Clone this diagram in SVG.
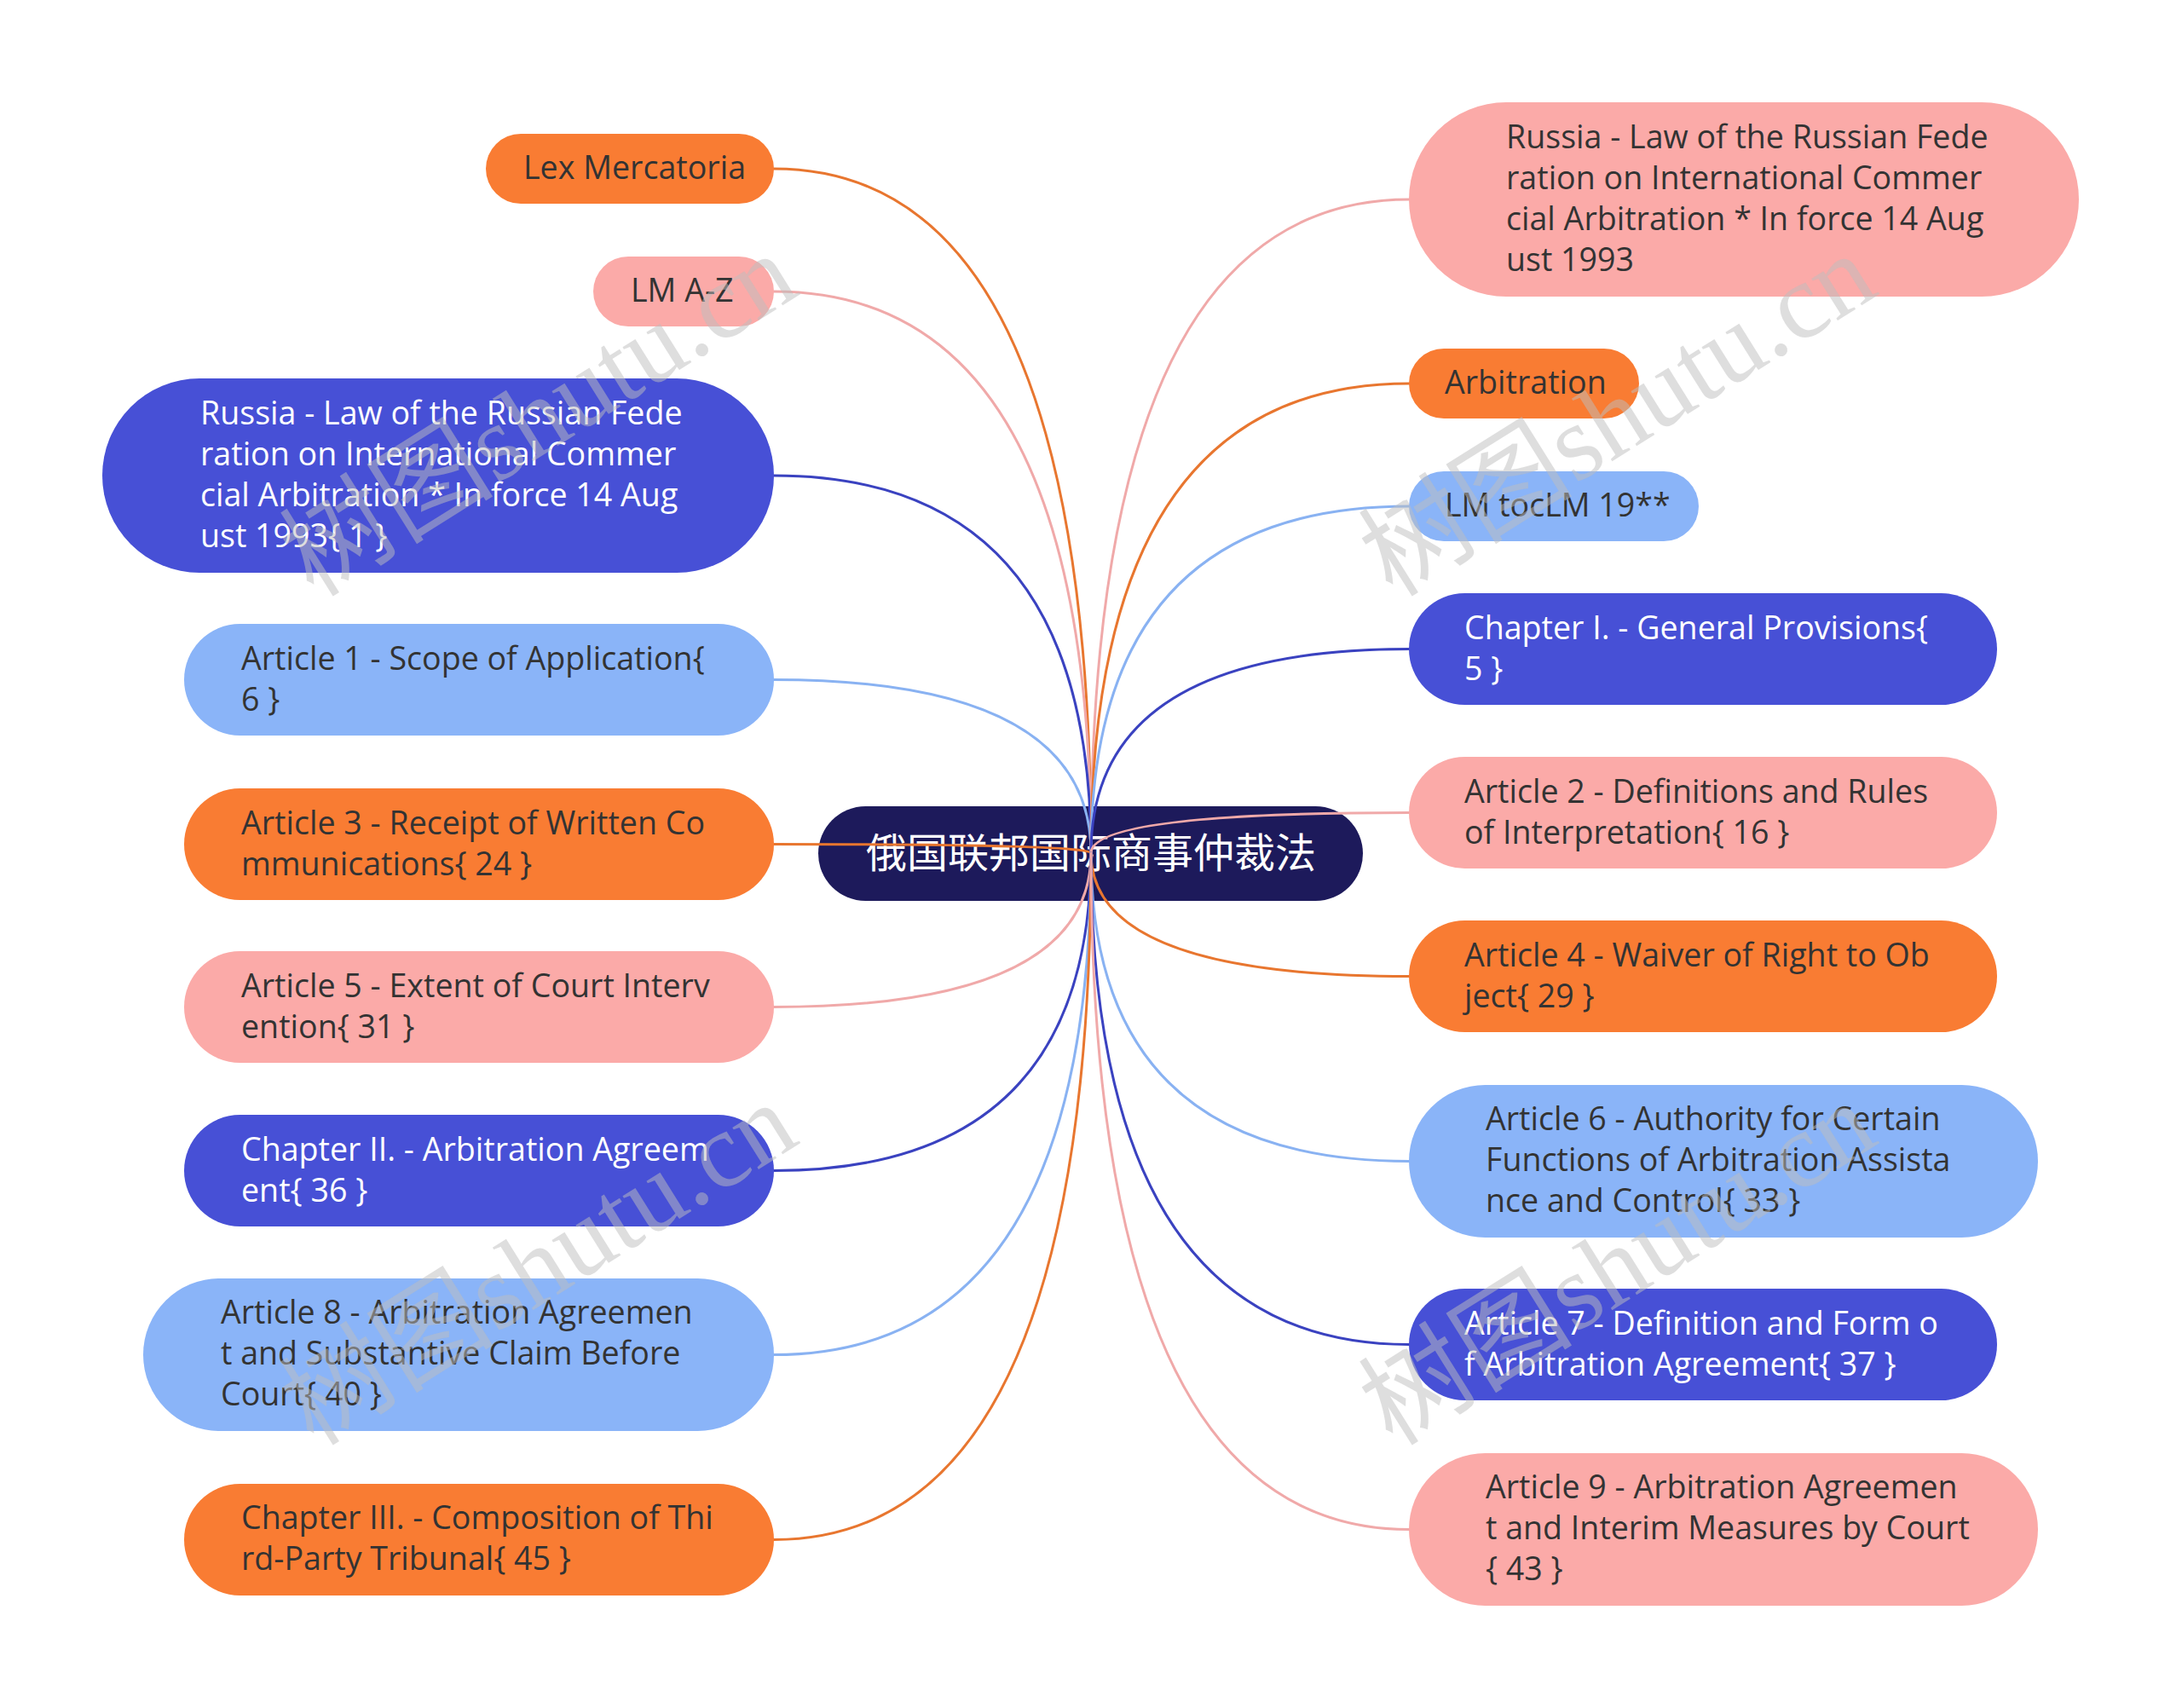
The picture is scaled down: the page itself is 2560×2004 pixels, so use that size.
<svg xmlns="http://www.w3.org/2000/svg" width="2560" height="2004" viewBox="0 0 2560 2004">
<style>
.t{font-family:"Open Sans","Noto Sans",sans-serif;font-size:37.6px;fill:#333333}
.w{fill:#ffffff}
.or{fill:#f97c33}
.pk{fill:#fbaaa8}
.lb{fill:#8ab4f8}
.bl{fill:#4750d6}
.c{fill:none;stroke-width:3;stroke-linecap:round}
.co{stroke:#e8762f}
.cp{stroke:#f0a9a9}
.cl{stroke:#89b2f2}
.cb{stroke:#3a42c0}
.wm{font-family:"Liberation Serif","Noto Sans CJK SC",serif;font-size:126px;fill:#bdbdbd;fill-opacity:0.5}
</style>
<rect x="0" y="0" width="2560" height="2004" fill="#ffffff"/>
<g id="center">
<rect x="960" y="946" width="639" height="111" rx="55.5" fill="#1d1a5b"/>
<text x="1280" y="1018" text-anchor="middle" style="font-family:'Noto Sans CJK SC','Noto Sans',sans-serif;font-size:48px;fill:#ffffff">俄国联邦国际商事仲裁法</text>
</g>
<g id="connectors">
<path class="c co" d="M1280,1001 Q1280,198 908,198"/>
<path class="c cp" d="M1280,1001 Q1280,342 908,342"/>
<path class="c cb" d="M1280,1001 Q1280,558 908,558"/>
<path class="c cl" d="M1280,1001 Q1280,797.5 908,797.5"/>
<path class="c co" d="M1280,1001 Q1280,990.5 908,990.5"/>
<path class="c cp" d="M1280,1001 Q1280,1181.5 908,1181.5"/>
<path class="c cb" d="M1280,1001 Q1280,1373.5 908,1373.5"/>
<path class="c cl" d="M1280,1001 Q1280,1589.5 908,1589.5"/>
<path class="c co" d="M1280,1001 Q1280,1806.5 908,1806.5"/>
<path class="c cp" d="M1280,1001 Q1280,234 1653,234"/>
<path class="c co" d="M1280,1001 Q1280,450 1653,450"/>
<path class="c cl" d="M1280,1001 Q1280,594 1653,594"/>
<path class="c cb" d="M1280,1001 Q1280,761.5 1653,761.5"/>
<path class="c cp" d="M1280,1001 Q1280,953.5 1653,953.5"/>
<path class="c co" d="M1280,1001 Q1280,1145.5 1653,1145.5"/>
<path class="c cl" d="M1280,1001 Q1280,1362.5 1653,1362.5"/>
<path class="c cb" d="M1280,1001 Q1280,1577.5 1653,1577.5"/>
<path class="c cp" d="M1280,1001 Q1280,1794.5 1653,1794.5"/>
</g>
<g id="n-lex">
<rect class="or" x="570" y="157" width="338" height="82" rx="41"/>
<text class="t" x="614" y="210">Lex Mercatoria</text>
</g>
<g id="n-lmaz">
<rect class="pk" x="696" y="301" width="212" height="82" rx="41"/>
<text class="t" x="740" y="354">LM A-Z</text>
</g>
<g id="n-russia-left">
<rect class="bl" x="120" y="444" width="788" height="228" rx="114"/>
<text class="t w" x="235"><tspan x="235" y="498">Russia - Law of the Russian Fede</tspan><tspan x="235" y="546">ration on International Commer</tspan><tspan x="235" y="594">cial Arbitration * In force 14 Aug</tspan><tspan x="235" y="642">ust 1993{ 1 }</tspan></text>
</g>
<g id="n-art1">
<rect class="lb" x="216" y="732" width="692" height="131" rx="65.5"/>
<text class="t"><tspan x="283" y="786">Article 1 - Scope of Application{</tspan><tspan x="283" y="834">6 }</tspan></text>
</g>
<g id="n-art3">
<rect class="or" x="216" y="925" width="692" height="131" rx="65.5"/>
<text class="t"><tspan x="283" y="979">Article 3 - Receipt of Written Co</tspan><tspan x="283" y="1027">mmunications{ 24 }</tspan></text>
</g>
<g id="n-art5">
<rect class="pk" x="216" y="1116" width="692" height="131" rx="65.5"/>
<text class="t"><tspan x="283" y="1170">Article 5 - Extent of Court Interv</tspan><tspan x="283" y="1218">ention{ 31 }</tspan></text>
</g>
<g id="n-ch2">
<rect class="bl" x="216" y="1308" width="692" height="131" rx="65.5"/>
<text class="t w"><tspan x="283" y="1362">Chapter II. - Arbitration Agreem</tspan><tspan x="283" y="1410">ent{ 36 }</tspan></text>
</g>
<g id="n-art8">
<rect class="lb" x="168" y="1500" width="740" height="179" rx="89.5"/>
<text class="t"><tspan x="259" y="1553">Article 8 - Arbitration Agreemen</tspan><tspan x="259" y="1601">t and Substantive Claim Before</tspan><tspan x="259" y="1649">Court{ 40 }</tspan></text>
</g>
<g id="n-ch3">
<rect class="or" x="216" y="1741" width="692" height="131" rx="65.5"/>
<text class="t"><tspan x="283" y="1794">Chapter III. - Composition of Thi</tspan><tspan x="283" y="1842">rd-Party Tribunal{ 45 }</tspan></text>
</g>
<g id="n-russia-right">
<rect class="pk" x="1653" y="120" width="786" height="228" rx="114"/>
<text class="t"><tspan x="1767" y="174">Russia - Law of the Russian Fede</tspan><tspan x="1767" y="222">ration on International Commer</tspan><tspan x="1767" y="270">cial Arbitration * In force 14 Aug</tspan><tspan x="1767" y="318">ust 1993</tspan></text>
</g>
<g id="n-arbitration">
<rect class="or" x="1653" y="409" width="270" height="82" rx="41"/>
<text class="t" x="1695" y="462">Arbitration</text>
</g>
<g id="n-lmtoc">
<rect class="lb" x="1653" y="553" width="340" height="82" rx="41"/>
<text class="t" x="1695" y="606">LM tocLM 19**</text>
</g>
<g id="n-ch1">
<rect class="bl" x="1653" y="696" width="690" height="131" rx="65.5"/>
<text class="t w"><tspan x="1718" y="750">Chapter I. - General Provisions{</tspan><tspan x="1718" y="798">5 }</tspan></text>
</g>
<g id="n-art2">
<rect class="pk" x="1653" y="888" width="690" height="131" rx="65.5"/>
<text class="t"><tspan x="1718" y="942">Article 2 - Definitions and Rules</tspan><tspan x="1718" y="990">of Interpretation{ 16 }</tspan></text>
</g>
<g id="n-art4">
<rect class="or" x="1653" y="1080" width="690" height="131" rx="65.5"/>
<text class="t"><tspan x="1718" y="1134">Article 4 - Waiver of Right to Ob</tspan><tspan x="1718" y="1182">ject{ 29 }</tspan></text>
</g>
<g id="n-art6">
<rect class="lb" x="1653" y="1273" width="738" height="179" rx="89.5"/>
<text class="t"><tspan x="1743" y="1326">Article 6 - Authority for Certain</tspan><tspan x="1743" y="1374">Functions of Arbitration Assista</tspan><tspan x="1743" y="1422">nce and Control{ 33 }</tspan></text>
</g>
<g id="n-art7">
<rect class="bl" x="1653" y="1512" width="690" height="131" rx="65.5"/>
<text class="t w"><tspan x="1718" y="1566">Article 7 - Definition and Form o</tspan><tspan x="1718" y="1614">f Arbitration Agreement{ 37 }</tspan></text>
</g>
<g id="n-art9">
<rect class="pk" x="1653" y="1705" width="738" height="179" rx="89.5"/>
<text class="t"><tspan x="1743" y="1758">Article 9 - Arbitration Agreemen</tspan><tspan x="1743" y="1806">t and Interim Measures by Court</tspan><tspan x="1743" y="1854">{ 43 }</tspan></text>
</g>
<g id="watermark">
<text class="wm" transform="translate(368,702) rotate(-32)">树图shutu.cn</text>
<text class="wm" transform="translate(1634,702) rotate(-32)">树图shutu.cn</text>
<text class="wm" transform="translate(368,1698) rotate(-32)">树图shutu.cn</text>
<text class="wm" transform="translate(1634,1698) rotate(-32)">树图shutu.cn</text>
</g>
</svg>
